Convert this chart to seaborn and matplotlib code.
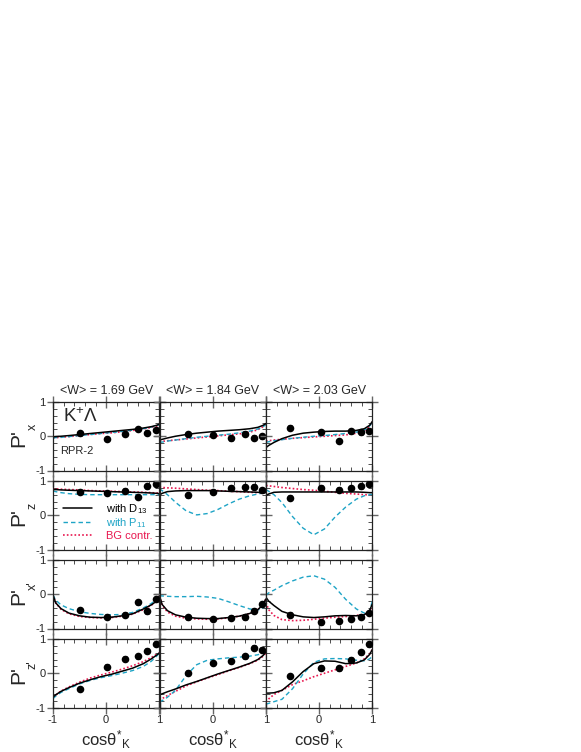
import numpy as np
import pandas as pd
import matplotlib
matplotlib.use("Agg")
import matplotlib.pyplot as plt
import seaborn as sns
from matplotlib.ticker import MultipleLocator

# ---------------- data ----------------
energies = ["1.69", "1.84", "2.03"]
row_sub = ["x", "z", "x'", "z'"]

# model-curve abscissae
xc = [-1, -0.95, -0.85, -0.7, -0.5, -0.3, -0.1, 0.1, 0.3, 0.5, 0.7, 0.85, 0.95, 1]

# P'x
px_169_d13 = [-0.02, -0.01, 0.0, 0.02, 0.05, 0.08, 0.11, 0.14, 0.17, 0.2, 0.24, 0.28, 0.32, 0.35]
px_169_p11 = [-0.05, -0.04, -0.03, -0.01, 0.02, 0.05, 0.08, 0.11, 0.14, 0.18, 0.22, 0.27, 0.31, 0.34]
px_169_bg = [-0.05, -0.04, -0.03, -0.01, 0.02, 0.05, 0.08, 0.1, 0.13, 0.17, 0.21, 0.26, 0.3, 0.33]
px_184_d13 = [-0.11, -0.09, -0.05, 0.0, 0.05, 0.09, 0.12, 0.15, 0.17, 0.19, 0.22, 0.26, 0.32, 0.37]
px_184_p11 = [-0.18, -0.17, -0.14, -0.11, -0.07, -0.03, 0.0, 0.03, 0.06, 0.1, 0.15, 0.21, 0.28, 0.34]
px_184_bg = [-0.16, -0.15, -0.13, -0.11, -0.08, -0.05, -0.02, 0.01, 0.04, 0.07, 0.12, 0.19, 0.28, 0.36]
px_203_d13 = [-0.33, -0.27, -0.18, -0.07, 0.03, 0.09, 0.12, 0.14, 0.15, 0.15, 0.17, 0.22, 0.32, 0.43]
px_203_p11 = [-0.18, -0.16, -0.13, -0.1, -0.06, -0.03, 0.0, 0.02, 0.05, 0.08, 0.12, 0.18, 0.3, 0.41]
px_203_bg = [-0.14, -0.13, -0.11, -0.09, -0.06, -0.04, -0.02, 0.0, 0.02, 0.04, 0.09, 0.16, 0.3, 0.43]

# P'z
pz_169_d13 = [0.75, 0.75, 0.74, 0.73, 0.72, 0.71, 0.7, 0.69, 0.68, 0.67, 0.66, 0.65, 0.64, 0.63]
pz_169_p11 = [0.71, 0.69, 0.66, 0.63, 0.61, 0.6, 0.6, 0.6, 0.6, 0.6, 0.6, 0.6, 0.6, 0.6]
pz_169_bg = [0.77, 0.77, 0.76, 0.75, 0.74, 0.72, 0.71, 0.7, 0.69, 0.68, 0.67, 0.66, 0.65, 0.65]
pz_184_d13 = [0.59, 0.64, 0.69, 0.71, 0.72, 0.72, 0.72, 0.71, 0.7, 0.69, 0.68, 0.67, 0.66, 0.66]
pz_184_p11 = [0.77, 0.72, 0.6, 0.38, 0.13, 0.01, 0.05, 0.17, 0.33, 0.47, 0.57, 0.62, 0.65, 0.66]
pz_184_bg = [0.82, 0.81, 0.8, 0.79, 0.77, 0.75, 0.73, 0.72, 0.7, 0.69, 0.67, 0.66, 0.65, 0.65]
pz_203_d13 = [0.58, 0.62, 0.67, 0.68, 0.68, 0.68, 0.68, 0.68, 0.68, 0.68, 0.68, 0.67, 0.66, 0.66]
pz_203_p11 = [0.75, 0.7, 0.6, 0.37, -0.04, -0.38, -0.57, -0.4, -0.05, 0.24, 0.47, 0.57, 0.6, 0.61]
pz_203_bg = [0.87, 0.86, 0.84, 0.81, 0.78, 0.75, 0.73, 0.7, 0.67, 0.64, 0.62, 0.6, 0.6, 0.6]

# P'x'
pxp_169_d13 = [-0.02, -0.25, -0.42, -0.55, -0.63, -0.67, -0.68, -0.67, -0.63, -0.57, -0.43, -0.31, -0.2, -0.05]
pxp_169_p11 = [-0.02, -0.17, -0.31, -0.42, -0.51, -0.56, -0.59, -0.6, -0.59, -0.53, -0.4, -0.27, -0.14, -0.06]
pxp_169_bg = [-0.02, -0.25, -0.44, -0.57, -0.65, -0.68, -0.69, -0.68, -0.64, -0.58, -0.45, -0.32, -0.2, -0.05]
pxp_184_d13 = [-0.05, -0.3, -0.48, -0.6, -0.67, -0.7, -0.71, -0.71, -0.68, -0.64, -0.56, -0.45, -0.3, -0.14]
pxp_184_p11 = [-0.04, -0.05, -0.06, -0.07, -0.07, -0.06, -0.08, -0.12, -0.22, -0.33, -0.43, -0.46, -0.4, -0.24]
pxp_184_bg = [-0.05, -0.32, -0.52, -0.64, -0.7, -0.72, -0.73, -0.72, -0.69, -0.64, -0.56, -0.45, -0.3, -0.14]
pxp_203_d13 = [-0.09, -0.2, -0.33, -0.5, -0.6, -0.66, -0.68, -0.66, -0.63, -0.62, -0.63, -0.6, -0.47, -0.29]
pxp_203_p11 = [-0.03, 0.04, 0.12, 0.25, 0.39, 0.5, 0.54, 0.44, 0.2, -0.15, -0.43, -0.55, -0.5, -0.2]
pxp_203_bg = [-0.24, -0.45, -0.62, -0.74, -0.77, -0.76, -0.73, -0.7, -0.67, -0.65, -0.62, -0.59, -0.5, -0.33]

# P'z'
pzp_169_d13 = [-0.7, -0.63, -0.53, -0.42, -0.29, -0.19, -0.1, -0.03, 0.06, 0.15, 0.28, 0.42, 0.53, 0.59]
pzp_169_p11 = [-0.74, -0.67, -0.56, -0.45, -0.31, -0.21, -0.13, -0.07, 0.0, 0.08, 0.2, 0.35, 0.5, 0.59]
pzp_169_bg = [-0.71, -0.64, -0.52, -0.4, -0.26, -0.14, -0.05, 0.03, 0.12, 0.22, 0.34, 0.46, 0.55, 0.59]
pzp_184_d13 = [-0.63, -0.6, -0.54, -0.46, -0.34, -0.24, -0.13, -0.02, 0.08, 0.18, 0.29, 0.4, 0.52, 0.62]
pzp_184_p11 = [-0.84, -0.8, -0.7, -0.5, -0.07, 0.25, 0.38, 0.42, 0.45, 0.47, 0.5, 0.54, 0.59, 0.64]
pzp_184_bg = [-0.79, -0.74, -0.65, -0.53, -0.37, -0.25, -0.14, -0.04, 0.07, 0.17, 0.28, 0.38, 0.5, 0.59]
pzp_203_d13 = [-0.58, -0.58, -0.57, -0.5, -0.25, 0.05, 0.28, 0.36, 0.35, 0.28, 0.3, 0.39, 0.55, 0.69]
pzp_203_p11 = [-0.9, -0.88, -0.83, -0.76, -0.45, -0.02, 0.32, 0.42, 0.43, 0.42, 0.38, 0.36, 0.42, 0.5]
pzp_203_bg = [-0.84, -0.75, -0.62, -0.5, -0.33, -0.22, -0.1, 0.0, 0.1, 0.2, 0.3, 0.42, 0.57, 0.69]

# measured points
cos_169 = [-0.5, 0.01, 0.36, 0.6, 0.77, 0.93]
cos_184 = [-0.46, 0.01, 0.35, 0.6, 0.77, 0.93]
cos_203 = [-0.54, 0.03, 0.37, 0.6, 0.78, 0.93]

dpx_169 = [0.09, -0.08, 0.07, 0.21, 0.1, 0.18]
dpx_184 = [0.06, 0.04, -0.06, 0.07, -0.04, 0.0]
dpx_203 = [0.25, 0.11, -0.14, 0.14, 0.12, 0.16]
dpz_169 = [0.69, 0.65, 0.72, 0.53, 0.84, 0.92]
dpz_184 = [0.58, 0.69, 0.8, 0.82, 0.83, 0.73]
dpz_203 = [0.51, 0.8, 0.75, 0.79, 0.84, 0.9]
dpxp_169 = [-0.46, -0.66, -0.6, -0.24, -0.5, -0.15]
dpxp_184 = [-0.67, -0.72, -0.69, -0.67, -0.48, -0.29]
dpxp_203 = [-0.6, -0.82, -0.77, -0.72, -0.66, -0.55]
dpzp_169 = [-0.46, 0.19, 0.42, 0.49, 0.66, 0.86]
dpzp_184 = [0.02, 0.3, 0.36, 0.5, 0.75, 0.69]
dpzp_203 = [-0.08, 0.16, 0.15, 0.4, 0.61, 0.85]
err = [0.07, 0.07, 0.07, 0.07, 0.07, 0.07]

curves = [
    [(px_169_d13, px_169_p11, px_169_bg), (px_184_d13, px_184_p11, px_184_bg), (px_203_d13, px_203_p11, px_203_bg)],
    [(pz_169_d13, pz_169_p11, pz_169_bg), (pz_184_d13, pz_184_p11, pz_184_bg), (pz_203_d13, pz_203_p11, pz_203_bg)],
    [(pxp_169_d13, pxp_169_p11, pxp_169_bg), (pxp_184_d13, pxp_184_p11, pxp_184_bg), (pxp_203_d13, pxp_203_p11, pxp_203_bg)],
    [(pzp_169_d13, pzp_169_p11, pzp_169_bg), (pzp_184_d13, pzp_184_p11, pzp_184_bg), (pzp_203_d13, pzp_203_p11, pzp_203_bg)],
]
points = [
    [dpx_169, dpx_184, dpx_203],
    [dpz_169, dpz_184, dpz_203],
    [dpxp_169, dpxp_184, dpxp_203],
    [dpzp_169, dpzp_184, dpzp_203],
]
cos_pts = [cos_169, cos_184, cos_203]

# ---------------- style ----------------
sns.set_style("ticks")
plt.rcParams['font.family'] = ['Liberation Sans', 'DejaVu Sans']
plt.rcParams['mathtext.fontset'] = 'custom'
plt.rcParams['mathtext.rm'] = 'Liberation Sans'
plt.rcParams['mathtext.it'] = 'Liberation Sans:italic'

C_D13 = "black"
C_P11 = "#1ea4c6"
C_BG = "#e8174f"

W, H = 581.0, 752.0
fig = plt.figure(figsize=(W / 100, H / 100), dpi=100)

col_left = [53.0, 159.5, 266.0]
col_w = 106.3
row_top = [402.0, 481.0, 560.0, 639.0]
row_h = 68.5

for r in range(4):
    for c in range(3):
        ax = fig.add_axes([col_left[c] / W, 1 - (row_top[r] + row_h) / H, col_w / W, row_h / H])
        d13, p11, bg = curves[r][c]
        sns.lineplot(x=xc, y=bg, ax=ax, color=C_BG, lw=1.2, linestyle=(0, (1, 1.3)), sort=False)
        sns.lineplot(x=xc, y=p11, ax=ax, color=C_P11, lw=1.0, linestyle=(0, (3.2, 2.2)), sort=False)
        sns.lineplot(x=xc, y=d13, ax=ax, color=C_D13, lw=1.1, sort=False)
        ax.errorbar(cos_pts[c], points[r][c], yerr=err, fmt='none', ecolor='#444444',
                    elinewidth=0.6, capsize=1.6, capthick=0.6, zorder=4)
        sns.scatterplot(x=cos_pts[c], y=points[r][c], ax=ax, color='black', s=30,
                        edgecolor='black', linewidth=0, zorder=5)
        ax.set_xlim(-1, 1)
        ax.set_ylim(-1, 1)
        ax.set_xlabel('')
        ax.set_ylabel('')
        ax.set_xticks([-1, 0, 1])
        ax.set_yticks([-1, 0, 1])
        ax.xaxis.set_minor_locator(MultipleLocator(0.2))
        ax.yaxis.set_minor_locator(MultipleLocator(0.2))
        ax.tick_params(which='major', direction='inout', length=8, width=1.0, color='#666666',
                       top=True, right=True, labelsize=8, pad=1.5)
        ax.tick_params(which='minor', direction='in', length=3, width=0.6, color='#333333',
                       top=True, right=True)
        for sp in ax.spines.values():
            sp.set_linewidth(0.9)
            sp.set_color('#222222')
        if r < 3:
            ax.tick_params(labelbottom=False)
        else:
            ax.set_xticklabels(['-1', '0', '1'] if c == 0 else ['', '0', '1'])
        if c > 0:
            ax.tick_params(labelleft=False)
        else:
            ax.set_yticklabels(['-1', '0', '1'])

        if r == 0 and c == 0:
            ax.text(0.09, 0.78, "K$^{+}$Λ", transform=ax.transAxes, fontsize=13.5, va='center')
            ax.text(0.065, 0.28, "RPR-2", transform=ax.transAxes, fontsize=8, va='center')
        if r == 1 and c == 0:
            ys = [0.6, 0.4, 0.21]
            specs = [(C_D13, '-', 1.1, "with D$_{13}$"),
                     (C_P11, (0, (3.2, 2.2)), 1.0, "with P$_{11}$"),
                     (C_BG, (0, (1, 1.3)), 1.2, "BG contr.")]
            for yy, (col, ls, lw, lab) in zip(ys, specs):
                ax.plot([0.094, 0.367], [yy, yy], transform=ax.transAxes, color=col,
                        linestyle=ls, lw=lw)
                ax.text(0.5, yy - 0.06, lab, transform=ax.transAxes, color=col,
                        fontsize=8, va='baseline', ha='left')
        if r == 0:
            fig.text((col_left[c] + col_w / 2) / W, 1 - 391 / H, "<W> = %s GeV" % energies[c],
                     ha='center', va='center', fontsize=9)
        if r == 3:
            fig.text((col_left[c] + col_w / 2) / W, 1 - 740 / H, "cosθ$^{*}$$_{\\mathrm{K}}$",
                     ha='center', va='center', fontsize=12)

    rc = row_top[r] + row_h / 2
    fig.text(19 / W, 1 - (rc + 2) / H, "P'", rotation=90, fontsize=15, ha='center', va='center')
    fig.text(33 / W, 1 - (rc - 9) / H, row_sub[r], rotation=90, fontsize=9, ha='center', va='center')

fig.savefig("out.png", dpi=100)
